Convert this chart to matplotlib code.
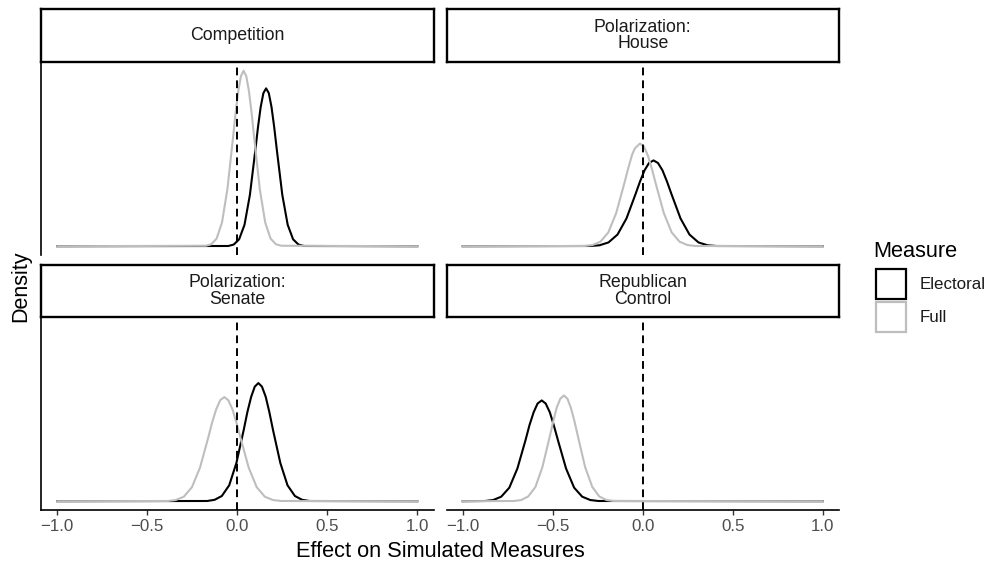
import matplotlib.pyplot as plt
from matplotlib.patches import Rectangle

plt.rcParams['font.family'] = ['Liberation Sans', 'DejaVu Sans']

# facet titles and legend entries
panels = ['Competition', 'Polarization:\nHouse', 'Polarization:\nSenate', 'Republican\nControl']
measures = ['Electoral', 'Full']
colors = ['black', '#BEBEBE']
tick_vals = [-1.0, -0.5, 0.0, 0.5, 1.0]
tick_labels = ['\u22121.0', '\u22120.5', '0.0', '0.5', '1.0']

# density curves (x = effect, y = density)
comp_elec_x = [-1.0, -0.050, -0.020, 0.010, 0.040, 0.070, 0.100, 0.115, 0.130, 0.145, 0.160,
               0.175, 0.190, 0.205, 0.220, 0.250, 0.280, 0.310, 0.340, 0.370, 1.0]
comp_elec_y = [0, 0.01, 0.07, 0.29, 0.90, 2.16, 4.03, 5.01, 5.86, 6.44, 6.64,
               6.44, 5.86, 5.01, 4.03, 2.16, 0.90, 0.29, 0.07, 0.01, 0]
comp_full_x = [-1.0, -0.175, -0.145, -0.115, -0.085, -0.055, -0.025, -0.010, 0.005, 0.020, 0.035,
               0.050, 0.065, 0.080, 0.095, 0.125, 0.155, 0.185, 0.215, 0.245, 1.0]
comp_full_y = [0, 0.02, 0.08, 0.32, 1.00, 2.40, 4.48, 5.57, 6.51, 7.15, 7.38,
               7.15, 6.51, 5.57, 4.48, 2.40, 1.00, 0.32, 0.08, 0.02, 0]

house_elec_x = [-1.0, -0.290, -0.240, -0.190, -0.140, -0.090, -0.040, -0.015, 0.010, 0.035, 0.060,
                0.085, 0.110, 0.135, 0.160, 0.210, 0.260, 0.310, 0.360, 0.410, 1.0]
house_elec_y = [0, 0.01, 0.04, 0.16, 0.49, 1.17, 2.19, 2.72, 3.19, 3.50, 3.61,
                3.50, 3.19, 2.72, 2.19, 1.17, 0.49, 0.16, 0.04, 0.01, 0]
house_full_x = [-1.0, -0.323, -0.279, -0.235, -0.191, -0.147, -0.103, -0.081, -0.059, -0.043, -0.015,
                0.007, 0.029, 0.051, 0.073, 0.117, 0.161, 0.205, 0.249, 0.293, 1.0]
house_full_y = [0, 0.01, 0.05, 0.19, 0.58, 1.40, 2.62, 3.26, 3.85, 4.12, 4.32,
                4.19, 3.81, 3.26, 2.62, 1.40, 0.58, 0.19, 0.05, 0.01, 0]

senate_elec_x = [-1.0, -0.167, -0.126, -0.086, -0.045, -0.005, 0.036, 0.056, 0.077, 0.097, 0.117,
                 0.137, 0.158, 0.178, 0.198, 0.239, 0.279, 0.320, 0.360, 0.401, 1.0]
senate_elec_y = [0, 0.01, 0.06, 0.22, 0.67, 1.61, 3.01, 3.75, 4.39, 4.82, 4.97,
                 4.82, 4.39, 3.75, 3.01, 1.61, 0.67, 0.22, 0.06, 0.01, 0]
senate_full_x = [-1.0, -0.387, -0.342, -0.297, -0.252, -0.207, -0.162, -0.140, -0.117, -0.095, -0.072,
                 -0.050, -0.027, -0.005, 0.018, 0.063, 0.108, 0.153, 0.198, 0.243, 1.0]
senate_full_y = [0, 0.01, 0.05, 0.19, 0.59, 1.42, 2.66, 3.31, 3.87, 4.25, 4.38,
                 4.25, 3.87, 3.31, 2.66, 1.42, 0.59, 0.19, 0.05, 0.01, 0]

rep_elec_x = [-1.0, -0.876, -0.831, -0.786, -0.741, -0.696, -0.651, -0.629, -0.606, -0.584, -0.561,
              -0.539, -0.516, -0.494, -0.471, -0.426, -0.381, -0.336, -0.291, -0.246, 1.0]
rep_elec_y = [0, 0.01, 0.05, 0.19, 0.57, 1.38, 2.57, 3.20, 3.74, 4.11, 4.24,
              4.11, 3.74, 3.20, 2.57, 1.38, 0.57, 0.19, 0.05, 0.01, 0]
rep_full_x = [-1.0, -0.715, -0.675, -0.636, -0.596, -0.557, -0.517, -0.497, -0.478, -0.458, -0.438,
              -0.418, -0.399, -0.379, -0.359, -0.320, -0.280, -0.241, -0.201, -0.162, 1.0]
rep_full_y = [0, 0.01, 0.05, 0.20, 0.60, 1.44, 2.70, 3.36, 3.93, 4.31, 4.45,
              4.31, 3.93, 3.36, 2.70, 1.44, 0.60, 0.20, 0.05, 0.01, 0]

curves = [
    [(comp_elec_x, comp_elec_y), (comp_full_x, comp_full_y)],
    [(house_elec_x, house_elec_y), (house_full_x, house_full_y)],
    [(senate_elec_x, senate_elec_y), (senate_full_x, senate_full_y)],
    [(rep_elec_x, rep_elec_y), (rep_full_x, rep_full_y)],
]

W, H = 990, 562
fig = plt.figure(figsize=(W / 100, H / 100), dpi=100)


def box(l, t, r, b):
    return [l / W, 1 - b / H, (r - l) / W, (b - t) / H]


cols = [(41.1, 433.5), (446.5, 838.9)]
rows = [(62, 255, 9), (317, 510, 265)]   # panel top, panel bottom, strip top

ymax = max(max(c[1]) for pair in curves for c in pair)

for i, name in enumerate(panels):
    r, c = divmod(i, 2)
    l, rr = cols[c]
    t, b, st = rows[r]
    ax = fig.add_axes(box(l, t, rr, b))
    for (xs, ys), col in zip(curves[i], colors):
        ax.plot(xs, ys, color=col, lw=1.5, solid_joinstyle='round')
    ax.axvline(0, color='black', lw=1.4, ls=(0, (4, 2.6)), zorder=5)
    ax.set_xlim(-1.09, 1.09)
    ax.set_ylim(-0.05 * ymax, 1.05 * ymax)
    for s in ['top', 'right']:
        ax.spines[s].set_visible(False)
    ax.spines['left'].set_visible(c == 0)
    ax.spines['bottom'].set_visible(r == 1)
    for s in ['left', 'bottom']:
        ax.spines[s].set_linewidth(1.2)
    ax.set_yticks([])
    if r == 1:
        ax.set_xticks(tick_vals)
        ax.set_xticklabels(tick_labels)
        ax.tick_params(axis='x', length=3.4, width=1.0, color='#333333',
                       labelcolor='#4D4D4D', labelsize=12.2, pad=3)
    else:
        ax.set_xticks([])

    sax = fig.add_axes(box(l, st, rr, t))
    sax.set_xticks([])
    sax.set_yticks([])
    for s in sax.spines.values():
        s.set_linewidth(1.7)
        s.set_color('black')
    sax.text(0.5, 0.5, name, ha='center', va='center', fontsize=12.8,
             color='#1A1A1A', linespacing=1.0, transform=sax.transAxes)

fig.text(440 / W, 1 - 557 / H, 'Effect on Simulated Measures', ha='center',
         va='baseline', fontsize=15.7)
fig.text(21 / W, 1 - 286 / H, 'Density', rotation=90, ha='center',
         va='center', fontsize=15.5)

# legend
fig.text(873 / W, 1 - 257 / H, 'Measure', ha='left', va='baseline', fontsize=15.7)
key_tops = [268, 301]
for m, col, kt in zip(measures, colors, key_tops):
    fig.patches.append(Rectangle((876 / W, 1 - (kt + 31) / H), 30 / W, 30 / H,
                                 transform=fig.transFigure, facecolor='none',
                                 edgecolor=col, lw=1.6))
    fig.text(920 / W, 1 - (kt + 16.5) / H, m, ha='left', va='center',
             fontsize=12.2, color='#1A1A1A')

fig.savefig('out.png', dpi=100)
